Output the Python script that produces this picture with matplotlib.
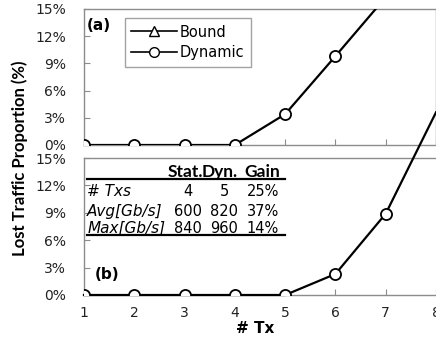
import numpy as np
import matplotlib
matplotlib.use("Agg")
import matplotlib.pyplot as plt
from matplotlib.lines import Line2D

plt.rcParams['font.family'] = ['DejaVu Sans']

# number of transmitters
tx = [1, 2, 3, 4, 5, 6, 7, 8]
# lost traffic proportion (%)
dyn_a = [0, 0, 0, 0, 3.4, 9.8, 16.3, 24.0]
dyn_b = [0, 0, 0, 0, 0, 2.3, 8.9, 20.0]

y_ticks = [0, 3, 6, 9, 12, 15]
y_ticklabels = ["0%", "3%", "6%", "9%", "12%", "15%"]

table_header = ["Stat.", "Dyn.", "Gain"]
table_rows = ["# Txs", "Avg[Gb/s]", "Max[Gb/s]"]
table_stat = ["4", "600", "840"]
table_dyn = ["5", "820", "960"]
table_gain = ["25%", "37%", "14%"]

grey = "#8c8c8c"
fs = 10

fig = plt.figure(figsize=(4.36, 3.40), dpi=100)
ax_a = fig.add_axes([84 / 436, 1 - 145 / 340, 352 / 436, 136 / 340])
ax_b = fig.add_axes([84 / 436, 1 - 295 / 340, 352 / 436, 137 / 340])


def style(ax, right=True):
    ax.set_xlim(1, 8)
    ax.set_ylim(0, 15)
    ax.set_yticks(y_ticks)
    ax.set_yticklabels(y_ticklabels)
    ax.set_xticks(tx)
    for s in ax.spines.values():
        s.set_color(grey)
        s.set_linewidth(1.0)
    ax.spines['right'].set_visible(right)
    ax.tick_params(axis='y', direction='in', length=4, color=grey, pad=13,
                   labelsize=fs, labelcolor='#222222')
    ax.tick_params(axis='x', direction='in', length=4, color=grey, pad=8,
                   labelsize=fs, labelcolor='#222222')


style(ax_a)
style(ax_b, right=False)
ax_a.set_xticklabels([])

mk = dict(marker='o', markersize=8, markerfacecolor='white',
          markeredgecolor='black', markeredgewidth=1.3)

# top panel: line clipped at axes
ax_a.plot(tx, dyn_a, color='black', lw=1.6, zorder=3, **mk)

# bottom panel: line runs over the top, markers stay inside
ax_b.plot(tx, dyn_b, color='black', lw=1.6, clip_on=False, zorder=3)
ax_b.plot(tx, dyn_b, ls='none', zorder=4, **mk)

handles = [
    Line2D([], [], color='black', lw=1.2, marker='^', markersize=7,
           markerfacecolor='white', markeredgecolor='black'),
    Line2D([], [], color='black', lw=1.2, marker='o', markersize=7,
           markerfacecolor='white', markeredgecolor='black'),
]
leg = ax_a.legend(handles, ["Bound", "Dynamic"], loc='upper left',
                  bbox_to_anchor=(0.116, 0.934), borderaxespad=0,
                  fancybox=False, fontsize=10.5, handlelength=3.1,
                  handletextpad=0.2, borderpad=0.45, labelspacing=0.4)
leg.get_frame().set_edgecolor(grey)
leg.get_frame().set_linewidth(1.0)

ax_a.text(0.009, 0.88, "(a)", transform=ax_a.transAxes, fontsize=11,
          fontweight='bold', va='center', ha='left')
ax_b.text(0.031, 0.146, "(b)", transform=ax_b.transAxes, fontsize=11,
          fontweight='bold', va='center', ha='left')

# small table in panel (b)
hx = [0.338, 0.437, 0.556]
for x, h in zip(hx, table_header):
    ax_b.text(x, 0.898, h, transform=ax_b.transAxes, fontsize=12.5,
              fontweight='bold', family='Lato', va='center', ha='right')
row_y = [0.752, 0.613, 0.489]
for y, lab, s, d, g in zip(row_y, table_rows, table_stat, table_dyn, table_gain):
    ax_b.text(0.009, y, lab, transform=ax_b.transAxes, fontsize=11,
              style='italic', va='center', ha='left')
    ax_b.text(0.295, y, s, transform=ax_b.transAxes, fontsize=10.5,
              va='center', ha='center')
    ax_b.text(0.398, y, d, transform=ax_b.transAxes, fontsize=10.5,
              va='center', ha='center')
    ax_b.text(0.554, y, g, transform=ax_b.transAxes, fontsize=10.5,
              va='center', ha='right')
for y in [0.847, 0.438]:
    ax_b.add_line(Line2D([0.009, 0.571], [y, y], transform=ax_b.transAxes,
                         color='black', lw=1.6))

fig.text(0.046, 0.535, "Lost Traffic Proportion (%)", rotation=90,
         fontsize=12, fontweight='bold', family='Lato',
         ha='center', va='center')
fig.text(0.585, 0.035, "# Tx", fontsize=11, fontweight='bold',
         ha='center', va='center')

fig.savefig("out.png", dpi=100)
